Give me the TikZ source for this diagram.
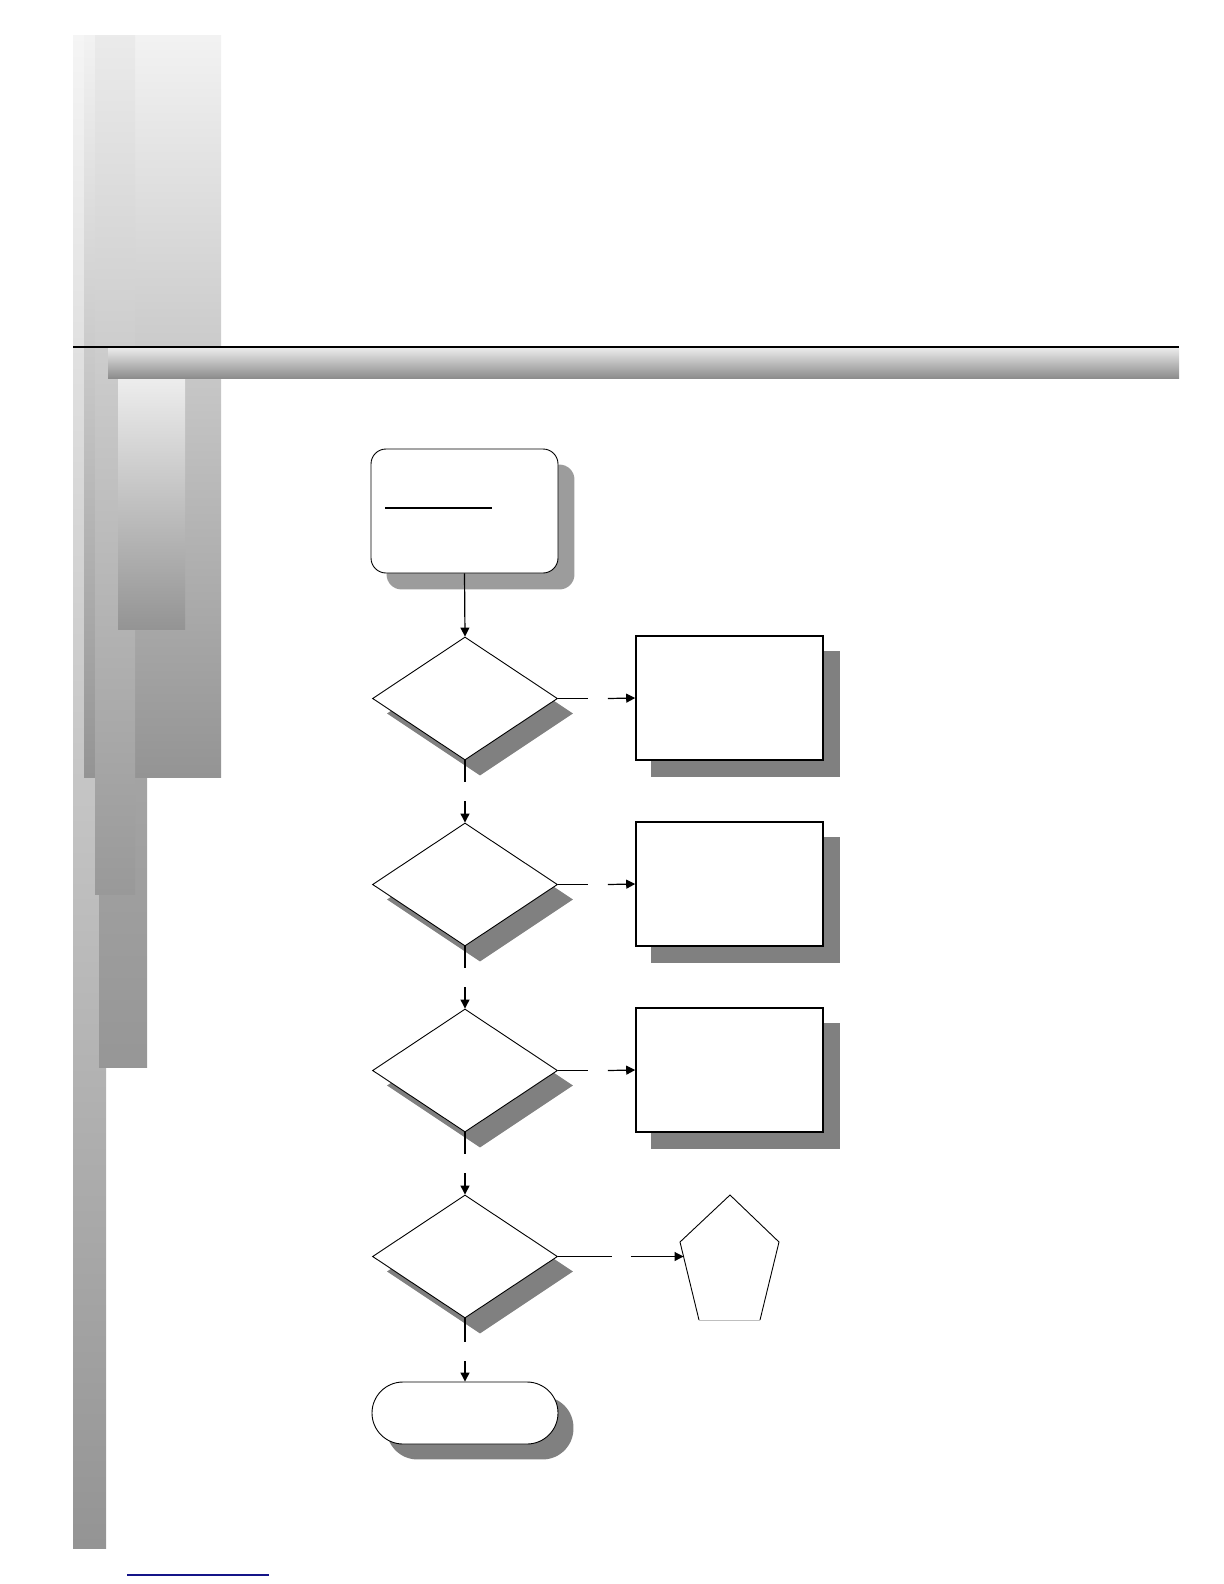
\documentclass[tikz,border=0pt]{standalone}
\usetikzlibrary{shapes.geometric,shapes.misc,arrows.meta,backgrounds}
\definecolor{shd}{HTML}{808080}
\definecolor{shdlight}{HTML}{9C9C9C}
\definecolor{linkblue}{HTML}{141488}
\begin{document}
\begin{tikzpicture}[x=0.5pt,y=0.5pt,
  decision/.style={diamond, draw, line width=0.45pt, fill=white, inner sep=0pt,
    minimum width=92.5pt, minimum height=61.5pt},
  process/.style={rectangle, draw, line width=0.8pt, fill=white, inner sep=0pt,
    minimum width=93.5pt, minimum height=62pt},
  startbox/.style={rectangle, rounded corners=7.5pt, draw, line width=0.45pt, fill=white,
    inner sep=0pt, minimum width=93.5pt, minimum height=62pt},
  endbox/.style={rounded rectangle, draw, line width=0.45pt, fill=white, inner sep=0pt,
    minimum width=93pt, minimum height=31pt},
  flow/.style={line width=0.6pt},
  flowarrow/.style={flow, -{Triangle[length=4.5pt,width=4.5pt]}}
]
\useasboundingbox (0,0) rectangle (1224,-1584);

% ---------- decorative background bars ----------
\shade[top color=black!4, bottom color=black!42] (73,-36) rectangle (106,-1548);
\shade[top color=black!30, bottom color=black!41] (99,-450) rectangle (147,-1067);
\shade[top color=black!5, bottom color=black!42] (84,-36) rectangle (221,-777);
\shade[top color=black!8, bottom color=black!40] (95,-36) rectangle (135,-894);
\shade[top color=black!7, bottom color=black!42] (118,-378) rectangle (185,-629);
\shade[top color=black!8, bottom color=black!45] (108,-348) rectangle (1179,-378);
\draw[line width=0.9pt] (73,-347) -- (1179,-347);

% ---------- flowchart ----------
\node[startbox] (start) at (464.5,-511) {};
\draw[line width=1pt] (385,-508) -- (492,-508);

\foreach \k/\y in {1/698.5,2/884.5,3/1070.5,4/1256.5}{
  \node[decision] (d\k) at (465,-\y) {};
}
\foreach \k/\y in {1/698,2/884,3/1070}{
  \node[process] (b\k) at (729.5,-\y) {};
}
\node[endbox] (end) at (465,-1413) {};

% shadows
\begin{pgfonlayer}{background}
\foreach \k in {1,2,3,4}{
  \fill[shd] ([shift={(15,-15)}]d\k.north) -- ([shift={(15,-15)}]d\k.east)
    -- ([shift={(15,-15)}]d\k.south) -- ([shift={(15,-15)}]d\k.west) -- cycle;
}
\foreach \k in {1,2,3}{
  \fill[shd] ([shift={(16,-16)}]b\k.south west) rectangle ([shift={(16,-16)}]b\k.north east);
}
\fill[shdlight, rounded corners=7.5pt] ([shift={(16,-16)}]start.south west) rectangle ([shift={(16,-16)}]start.north east);
\path (end.west |- end.south) ++(15,-15) coordinate (es1);
\path (end.east |- end.north) ++(15,-15) coordinate (es2);
\fill[shd, rounded corners=15.4pt] (es1) rectangle (es2);
\end{pgfonlayer}

% pentagon
\draw[line width=0.45pt] (699,-1320) -- (680,-1242) -- (730,-1195) -- (779,-1242) -- (760,-1320);
\draw[line width=0.45pt, black!25] (760,-1320) -- (699,-1320);
\coordinate (penta) at (683.5,-1256.5);

% connectors
\draw[flowarrow] (start.south) -- (d1.north);
\foreach \k in {1,2,3}{
  \path (d\k.east) ++(30,0) coordinate (ra\k) ++(20,0) coordinate (rb\k);
  \draw[flow] (d\k.east) -- (ra\k);
  \draw[flowarrow] (rb\k) -- (b\k.west);
}
\path (d4.east) ++(54,0) coordinate (ra4) ++(19,0) coordinate (rb4);
\draw[flow] (d4.east) -- (ra4);
\draw[flowarrow] (rb4) -- (penta);

\foreach \k/\j in {1/2,2/3,3/4}{
  \path (d\k.south) ++(0,-22) coordinate (da\k) ++(0,-19) coordinate (db\k);
  \draw[flow] (d\k.south) -- (da\k);
  \draw[flowarrow] (db\k) -- (d\j.north);
}
\path (d4.south) ++(0,-24) coordinate (da4) ++(0,-19) coordinate (db4);
\draw[flow] (d4.south) -- (da4);
\draw[flowarrow] (db4) -- (end.north);

% footer link line
\draw[linkblue, line width=0.7pt] (127,-1575) -- (269,-1575);
\end{tikzpicture}
\end{document}
